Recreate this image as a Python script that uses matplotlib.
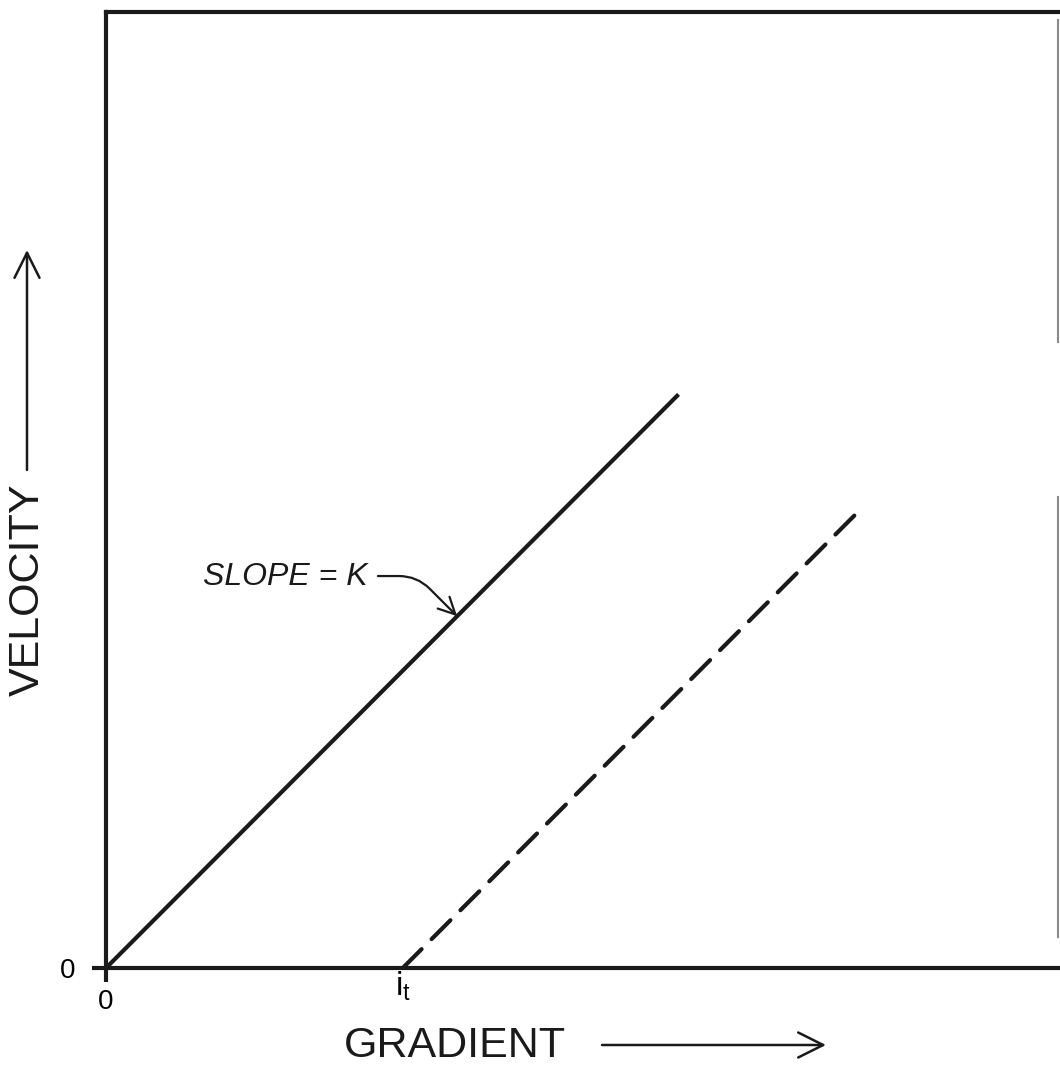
import matplotlib
matplotlib.use("Agg")
import matplotlib.pyplot as plt
from matplotlib.lines import Line2D

# ---- data (schematic units) ----
solid_x = [0.0, 6.0]
solid_y = [0.0, 6.0]
i_t = 3.11
dashed_x = [i_t, 7.85]
dashed_y = [0.0, 4.74]
xticks = [0]
xticklabels = ["0"]
yticks = [0]
yticklabels = ["0"]
slope_text = "SLOPE = K"
slope_point = (3.68, 3.68)
x_title = "GRADIENT"
y_title = "VELOCITY"

W, H = 1060, 1069
fig = plt.figure(figsize=(W / 100, H / 100), dpi=100)
plt.rcParams['font.family'] = ['Liberation Sans', 'DejaVu Sans']

def fx(px):
    return px / W

def fy(py):
    return 1 - py / H

ax = fig.add_axes([fx(106), fy(968), fx(1060) - fx(106) + 0.002, fy(12) - fy(968)])
ax.set_xlim(0, 10.02)
ax.set_ylim(0, 10)

lw = 3.0
ax.plot(solid_x, solid_y, color="#1a1a1a", lw=lw, solid_capstyle="butt")
ax.plot(dashed_x, dashed_y, color="#1a1a1a", lw=lw, dashes=(6.4, 3.4),
        dash_capstyle="round")

for s in ["left", "bottom", "top"]:
    ax.spines[s].set_linewidth(lw)
    ax.spines[s].set_color("#1a1a1a")
ax.spines["right"].set_visible(False)

ax.set_xticks(xticks)
ax.set_xticklabels(xticklabels, fontsize=20)
ax.set_yticks(yticks)
ax.set_yticklabels(yticklabels, fontsize=20)
ax.set_xticks([i_t], minor=True)
ax.set_xticklabels([r"$\mathregular{i_t}$"], minor=True, fontsize=24)
ax.tick_params(axis="both", which="major", direction="out", length=10, width=lw,
               color="#1a1a1a", pad=5)
ax.tick_params(axis="x", which="minor", length=0, pad=1)
ax.tick_params(axis="y", which="major", pad=12)

# slope annotation
ax.text(1.02, 4.09, slope_text, fontsize=23, style="italic", va="center", ha="left",
        color="#1a1a1a")
ax.annotate("", xy=slope_point, xytext=(2.85, 4.10),
            arrowprops=dict(arrowstyle="->,head_length=0.6,head_width=0.3",
                            connectionstyle="angle,angleA=0,angleB=135,rad=18",
                            lw=1.6, color="#1a1a1a", mutation_scale=20,
                            shrinkA=0, shrinkB=0))

# axis titles with arrows
fig.text(fx(455), fy(1046), x_title, fontsize=31, ha="center", va="center", color="#1a1a1a")
fig.text(fx(28), fy(590), y_title, fontsize=31, ha="center", va="center", rotation=90,
         color="#1a1a1a")
arrow_kw = dict(arrowstyle="->,head_length=0.9,head_width=0.45", lw=1.8,
                color="#1a1a1a", mutation_scale=20, shrinkA=0, shrinkB=0)
fig.add_artist(matplotlib.patches.FancyArrowPatch((fx(602), fy(1045)), (fx(826), fy(1045)),
                                                  transform=fig.transFigure, **arrow_kw))
fig.add_artist(matplotlib.patches.FancyArrowPatch((fx(27), fy(470)), (fx(27), fy(250)),
                                                  transform=fig.transFigure, **arrow_kw))

# faint scan edge lines at the right
for (y0, y1) in [(20, 342), (497, 937)]:
    fig.add_artist(Line2D([fx(1058), fx(1058)], [fy(y0), fy(y1)], color="#8a8a8a", lw=1.5,
                          transform=fig.transFigure))

fig.savefig("out.png", dpi=100)
